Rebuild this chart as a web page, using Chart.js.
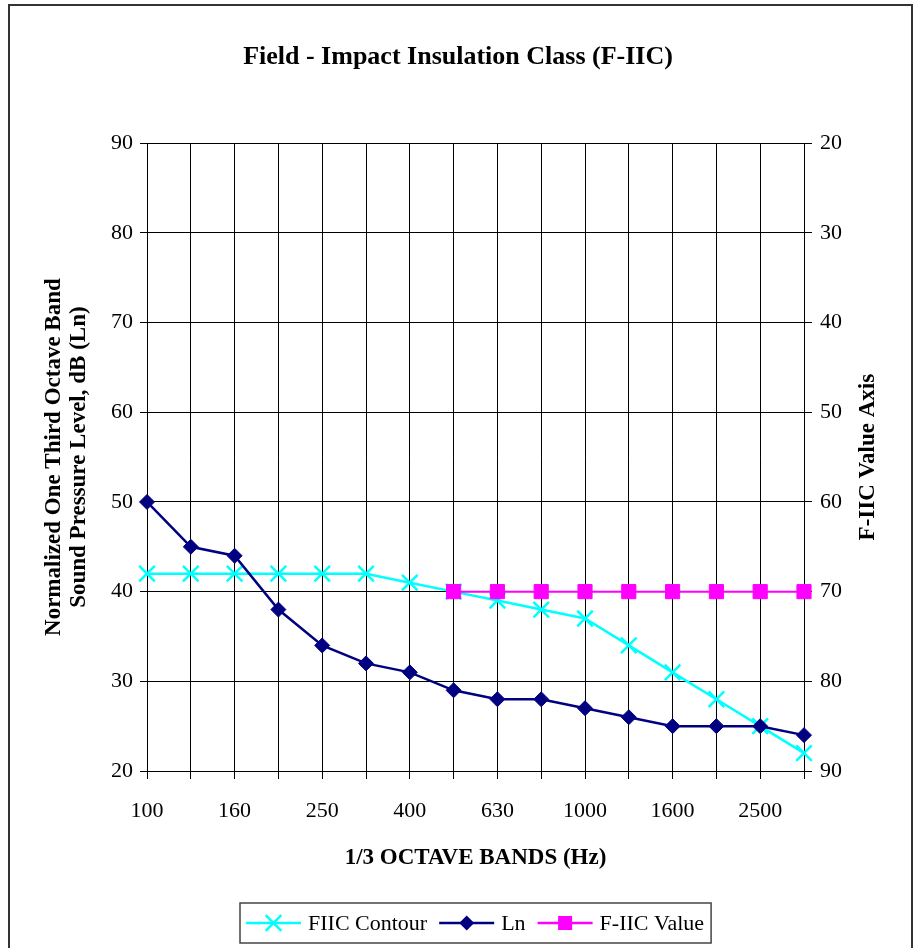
<!DOCTYPE html>
<html>
<head>
<meta charset="utf-8">
<script src="https://cdn.jsdelivr.net/npm/chart.js@4.4.1/dist/chart.umd.min.js"></script>
<style>
  html, body { margin: 0; padding: 0; background: #fff; }
  #wrap { width: 916px; height: 948px; }
</style>
</head>
<body>
<div id="wrap"><canvas id="chart" width="916" height="948"></canvas></div>
<script>
// 1/3 octave band centre frequencies (Hz)
const bands = ['100', '125', '160', '200', '250', '315', '400', '500', '630', '800', '1000', '1250', '1600', '2000', '2500', '3150'];
// shifted reference contour, dB
const fiicContour = [42, 42, 42, 42, 42, 42, 41, 40, 39, 38, 37, 34, 31, 28, 25, 22];
// measured normalized levels, dB
const lnValues = [50, 45, 44, 38, 34, 32, 31, 29, 28, 28, 27, 26, 25, 25, 25, 24];
// F-IIC rating on the right axis (from 500 Hz up)
const fiicValue = [null, null, null, null, null, null, null, 70, 70, 70, 70, 70, 70, 70, 70, 70];
// axis ranges
const leftRange = [20, 90];
const rightRange = [20, 90];
const tickStep = 10;

const SERIF = '"Liberation Serif", "Times New Roman", serif';

const series = [
  { label: 'FIIC Contour', color: '#00FFFF', marker: 'x' },
  { label: 'Ln', color: '#000080', marker: 'diamond' },
  { label: 'F-IIC Value', color: '#FF00FF', marker: 'square' }
];

function drawMarker(ctx, type, x, y, color) {
  ctx.save();
  ctx.strokeStyle = color;
  ctx.fillStyle = color;
  ctx.beginPath();
  if (type === 'x') {
    const d = 7.8;
    ctx.lineWidth = 2.5;
    ctx.moveTo(x - d, y - d); ctx.lineTo(x + d, y + d);
    ctx.moveTo(x + d, y - d); ctx.lineTo(x - d, y + d);
    ctx.stroke();
  } else if (type === 'diamond') {
    const r = 7.5;
    ctx.moveTo(x, y - r); ctx.lineTo(x + r, y); ctx.lineTo(x, y + r); ctx.lineTo(x - r, y);
    ctx.closePath();
    ctx.fill();
  } else {
    const h = 7;
    ctx.fillRect(x - h, y - h, 2 * h, 2 * h);
  }
  ctx.restore();
}

// frame, right axis title (reads bottom to top) and the boxed legend
const extras = {
  id: 'extras',
  afterDraw(chart) {
    const ctx = chart.ctx;
    const area = chart.chartArea;

    ctx.save();
    ctx.strokeStyle = '#333';
    ctx.lineWidth = 2;
    ctx.strokeRect(9, 5, 903, 960);

    ctx.fillStyle = '#000';
    ctx.font = 'bold 23px ' + SERIF;
    ctx.textAlign = 'center';
    ctx.textBaseline = 'middle';
    ctx.translate(868, (area.top + area.bottom) / 2);
    ctx.rotate(-Math.PI / 2);
    ctx.fillText('F-IIC Value Axis', 0, 0);
    ctx.restore();

    // legend
    ctx.save();
    ctx.font = '22px ' + SERIF;
    const padL = 6, padR = 7, lineLen = 55, gapText = 7, gapItem = 12;
    const widths = series.map(s => ctx.measureText(s.label).width);
    let total = padL + padR;
    widths.forEach((w, i) => { total += lineLen + gapText + w + (i < widths.length - 1 ? gapItem : 0); });
    const boxLeft = Math.round((area.left + area.right) / 2 - total / 2);
    const boxTop = 903, boxH = 40, cy = boxTop + boxH / 2;
    ctx.strokeStyle = '#444';
    ctx.lineWidth = 1.5;
    ctx.strokeRect(boxLeft, boxTop, total, boxH);
    let x = boxLeft + padL;
    series.forEach((s, i) => {
      ctx.strokeStyle = s.color;
      ctx.lineWidth = 2.5;
      ctx.beginPath();
      ctx.moveTo(x, cy); ctx.lineTo(x + lineLen, cy);
      ctx.stroke();
      drawMarker(ctx, s.marker, x + lineLen / 2, cy, s.color);
      x += lineLen + gapText;
      ctx.fillStyle = '#000';
      ctx.textAlign = 'left';
      ctx.textBaseline = 'middle';
      ctx.fillText(s.label, x, cy + 1);
      x += widths[i] + gapItem;
    });
    ctx.restore();
  }
};

const ctx = document.getElementById('chart').getContext('2d');

const config = {
  type: 'line',
  data: {
    labels: bands,
    datasets: [
      {
        label: series[0].label,
        data: fiicContour,
        yAxisID: 'y',
        order: 2,
        borderColor: series[0].color,
        backgroundColor: series[0].color,
        borderWidth: 2.5,
        pointStyle: 'crossRot',
        pointRadius: 11,
        pointBorderWidth: 2.5,
        tension: 0,
        clip: false
      },
      {
        label: series[1].label,
        data: lnValues,
        yAxisID: 'y',
        order: 1,
        borderColor: series[1].color,
        backgroundColor: series[1].color,
        borderWidth: 2.5,
        pointStyle: 'rectRot',
        pointRadius: 7.5,
        pointBorderWidth: 1,
        tension: 0,
        clip: false
      },
      {
        label: series[2].label,
        data: fiicValue,
        yAxisID: 'y2',
        order: 0,
        borderColor: series[2].color,
        backgroundColor: series[2].color,
        borderWidth: 2,
        pointStyle: 'rect',
        pointRadius: 10,
        pointBorderWidth: 1,
        tension: 0,
        clip: false
      }
    ]
  },
  options: {
    responsive: false,
    animation: false,
    devicePixelRatio: 1,
    layout: { padding: { left: 10, right: 10, top: 0, bottom: 68 } },
    plugins: {
      legend: { display: false },
      tooltip: { enabled: false },
      title: {
        display: true,
        text: 'Field - Impact Insulation Class (F-IIC)',
        color: '#000',
        font: { family: SERIF, size: 26, weight: 'bold', lineHeight: 1.2 },
        padding: { top: 42, bottom: 70 }
      }
    },
    scales: {
      x: {
        offset: false,
        grid: { color: '#000', lineWidth: 1, tickLength: 8 },
        border: { color: '#000', width: 1 },
        ticks: {
          autoSkip: false,
          maxRotation: 0,
          padding: 19,
          color: '#000',
          font: { family: SERIF, size: 22 },
          callback: function (value, index) { return index % 2 === 0 ? this.getLabelForValue(value) : ''; }
        },
        title: {
          display: true,
          text: '1/3 OCTAVE BANDS (Hz)',
          color: '#000',
          font: { family: SERIF, size: 23, weight: 'bold', lineHeight: 1.1 },
          padding: { top: 0, bottom: 9 }
        },
        afterFit: s => { s.height = 109; }
      },
      y: {
        position: 'left',
        min: leftRange[0],
        max: leftRange[1],
        grid: { color: '#000', lineWidth: 1, tickLength: 7 },
        border: { color: '#000', width: 1 },
        ticks: { stepSize: tickStep, padding: 7, color: '#000', font: { family: SERIF, size: 22 } },
        title: {
          display: true,
          text: ['Normalized One Third Octave Band', 'Sound Pressure Level, dB (Ln)'],
          color: '#000',
          font: { family: SERIF, size: 23, weight: 'bold', lineHeight: 1.1 },
          padding: { top: 31, bottom: 0 }
        },
        afterFit: s => { s.width = 137; }
      },
      y2: {
        position: 'right',
        min: rightRange[0],
        max: rightRange[1],
        reverse: true,
        grid: { drawOnChartArea: false, color: '#000', lineWidth: 1, tickLength: 8 },
        border: { color: '#000', width: 1 },
        ticks: { stepSize: tickStep, padding: 8, color: '#000', font: { family: SERIF, size: 22 } },
        afterFit: s => { s.width = 102; }
      }
    }
  },
  plugins: [extras]
};

const myChart = new Chart(ctx, config);
</script>
</body>
</html>
